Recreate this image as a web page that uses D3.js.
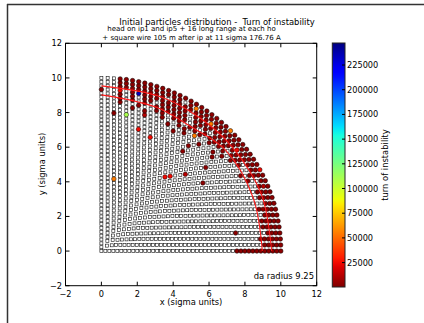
<!DOCTYPE html>
<html><head><meta charset="utf-8">
<script src="https://cdn.jsdelivr.net/npm/d3@7"></script>
<style>body{margin:0;background:#fff}svg{display:block}text{font-family:"DejaVu Sans",sans-serif;white-space:pre}</style>
</head><body><svg id="c" width="424" height="323"></svg>
<script>
// ---- data ----
// initial amplitudes (sigma) of the 46 arcs, and number of particles on each arc (spread from 0 to 90 deg)
const amps = [0,0.2222,0.4444,0.6667,0.8889,1.1111,1.3333,1.5556,1.7778,2,2.2222,2.4444,2.6667,2.8889,3.1111,3.3333,3.5556,3.7778,4,4.2222,4.4444,4.6667,4.8889,5.1111,5.3333,5.5556,5.7778,6,6.2222,6.4444,6.6667,6.8889,7.1111,7.3333,7.5556,7.7778,8,8.2222,8.4444,8.6667,8.8889,9.1111,9.3333,9.5556,9.7778,10];
const pointsPerArc = [1,2,3,4,5,6,7,8,9,10,11,12,13,14,15,16,17,18,19,20,21,22,23,24,25,26,27,28,29,30,31,32,33,34,35,36,37,38,39,40,41,42,43,44,45,46];
// turn of instability per code
const turnCodes = ['d','m','r','o','y','g','b','n'];
const turnValues = [3000,12000,25000,55000,85000,110000,190000,235000];
// lost particles on the outer arcs: one char per particle (index 0 = 0 deg), '.' = stable
const outerArcIndex = [45,44,43,42,41,40,39,38];
const outerArcPattern = [
 "ddddd ddddd ddddr ddddd ddodd ddddd ddddd ddddd ddd.. .",
 "ddddd ddddd dmddd ddddd ddddd dddod .dddd ddddd dd...",
 "ddddd ddddd dd.dd dddrd ddddo ddddd dd.dd ddddd d...",
 "ddddd ddd.d d..d. .dddd ddddd dd.dd ddddd dnd.r ..d",
 "ddd.d d.d.. ..d.. ddd.d dd.dd d.ddd dd.dd .d.d. ..",
 "d.d.. ..... ...d. .d.dd ddd.d .dddd dd.d. d.d.. .",
 "d.... ..... ..... ..d.. d.ddd .dd.d d..d. .d...",
 "d.... ..... ..... ...d. ..o.d d..d. .d.d. ...."
];
// isolated lost particles inside: [arc, index on arc, code]
const innerLost = [
 [37,0,'d'],[36,0,'d'],[35,0,'d'],[34,0,'d'],[34,3,'d'],
 [37,17,'d'],[37,20,'d'],[37,23,'d'],[37,26,'d'],[37,30,'m'],[36,24,'d'],[36,32,'g'],[36,34,'d'],
 [35,20,'d'],[34,15,'d'],[33,19,'d'],[33,27,'r'],[32,24,'r'],
 [31,12,'d'],[29,14,'m'],[26,14,'r'],[25,14,'r'],[19,17,'o']
];
const cbTicks = [25000,50000,75000,100000,125000,150000,175000,200000,225000];
const xTicks = [-2,0,2,4,6,8,10,12];
const yTicks = [-2,0,2,4,6,8,10,12];
const turnRange = [300, 247300];
// da limit lines: [angle deg, radius]
const daLineOuter = [[0,9.49],[20,9.5],[40,9.45],[55,9.45],[70,9.5],[90,9.54]];
const daLineInner = [[0,8.97],[20,9.0],[40,9.05],[55,8.75],[70,8.85],[90,9.02]];

// ---- chart ----
const svg = d3.select('#c');
svg.append('rect').attr('width',424).attr('height',323).attr('fill','#fff');
const x = d3.scaleLinear().domain([-2,12]).range([65.5,316.7]);
const y = d3.scaleLinear().domain([-2,12]).range([285.7,43.3]);

function jet(t){
  const r = d3.scaleLinear().domain([0,0.35,0.66,0.89,1]).range([0,0,1,1,0.5]).clamp(true)(t);
  const g = d3.scaleLinear().domain([0,0.125,0.375,0.64,0.91,1]).range([0,0,1,1,0,0]).clamp(true)(t);
  const b = d3.scaleLinear().domain([0,0.11,0.34,0.65,1]).range([0.5,1,1,0,0]).clamp(true)(t);
  return d3.rgb(r*255,g*255,b*255).toString();
}
const norm = d3.scaleLinear().domain(turnRange).range([0,1]).clamp(true);
const color = v => jet(1-norm(v));
const codeTurn = new Map(turnCodes.map((c,i)=>[c,turnValues[i]]));

// frame of the figure window
svg.append('line').attr('x1',7.5).attr('x2',7.5).attr('y1',4).attr('y2',323).attr('stroke','#333').attr('stroke-width',1.5);
svg.append('line').attr('x1',7).attr('x2',424).attr('y1',4.5).attr('y2',4.5).attr('stroke','#333').attr('stroke-width',1.5);

// particle states
const state = new Map();
outerArcIndex.forEach((k,i)=>{
  const s = outerArcPattern[i].replace(/ /g,'');
  for (let j=0;j<s.length;j++) if (s[j]!=='.') state.set(k+'_'+j, s[j]);
});
innerLost.forEach(d=>state.set(d[0]+'_'+d[1], d[2]));

const stable = [], lost = [];
amps.forEach((r,k)=>{
  const n = pointsPerArc[k];
  for (let j=0;j<n;j++){
    const a = n>1 ? (Math.PI/2)*j/(n-1) : 0;
    const p = {px:r*Math.cos(a), py:r*Math.sin(a)};
    const c = state.get(k+'_'+j);
    if (c) { p.t = codeTurn.get(c); lost.push(p); } else stable.push(p);
  }
});
const g = svg.append('g');
g.selectAll('rect.s').data(stable).join('rect').attr('class','s')
  .attr('x',d=>x(d.px)-1.5).attr('y',d=>y(d.py)-1.5).attr('width',3).attr('height',3)
  .attr('fill','#fff').attr('stroke','#111').attr('stroke-width',0.6);
g.selectAll('circle').data(lost).join('circle')
  .attr('cx',d=>x(d.px)).attr('cy',d=>y(d.py)).attr('r',2.25)
  .attr('fill',d=>color(d.t)).attr('stroke','#000').attr('stroke-width',0.5);

const line = d3.line().x(d=>x(d[1]*Math.cos(d[0]*Math.PI/180))).y(d=>y(d[1]*Math.sin(d[0]*Math.PI/180))).curve(d3.curveCatmullRom);
[daLineOuter,daLineInner].forEach(L=>{
  svg.append('path').attr('d',line(L)).attr('fill','none').attr('stroke','#ff1a1a').attr('stroke-width',1.1);
});

// axes frame
svg.append('rect').attr('x',65.5).attr('y',43.3).attr('width',316.7-65.5).attr('height',285.7-43.3)
  .attr('fill','none').attr('stroke','#000').attr('stroke-width',1);
xTicks.forEach(t=>{
  svg.append('line').attr('x1',x(t)).attr('x2',x(t)).attr('y1',285.7).attr('y2',281.7).attr('stroke','#000');
  svg.append('line').attr('x1',x(t)).attr('x2',x(t)).attr('y1',43.3).attr('y2',47.3).attr('stroke','#000');
  svg.append('text').attr('x',x(t)).attr('y',296.5).attr('text-anchor','middle').attr('font-size',8.2)
    .text(t<0?'\u2212'+Math.abs(t):t);
});
yTicks.forEach(t=>{
  svg.append('line').attr('x1',65.5).attr('x2',69.5).attr('y1',y(t)).attr('y2',y(t)).attr('stroke','#000');
  svg.append('line').attr('x1',316.7).attr('x2',312.7).attr('y1',y(t)).attr('y2',y(t)).attr('stroke','#000');
  svg.append('text').attr('x',62).attr('y',y(t)+3).attr('text-anchor','end').attr('font-size',8.2)
    .text(t<0?'\u2212'+Math.abs(t):t);
});
svg.append('text').attr('x',191).attr('y',305).attr('text-anchor','middle').attr('font-size',8.4).text('x (sigma units)');
svg.append('text').attr('transform','translate(45,164) rotate(-90)').attr('text-anchor','middle').attr('font-size',8.4).text('y (sigma units)');
svg.append('text').attr('x',314).attr('y',279).attr('text-anchor','end').attr('font-size',8.4).text('da radius 9.25');

svg.append('text').attr('x',217).attr('y',24.5).attr('text-anchor','middle').attr('font-size',8.4).text('Initial particles distribution -  Turn of instability');
svg.append('text').attr('x',191.5).attr('y',30.8).attr('text-anchor','middle').attr('font-size',7).text('head on ip1 and ip5 + 16 long range at each ho');
svg.append('text').attr('x',191.5).attr('y',39.8).attr('text-anchor','middle').attr('font-size',7).text('+ square wire 105 m after ip at 11 sigma 176.76 A');

// colorbar
const cb = d3.scaleLinear().domain(turnRange).range([287,43]);
const defs = svg.append('defs');
const grad = defs.append('linearGradient').attr('id','cbg').attr('x1',0).attr('x2',0).attr('y1',1).attr('y2',0);
d3.range(0,1.0001,0.02).forEach(s=>grad.append('stop').attr('offset',s).attr('stop-color',jet(1-s)));
svg.append('rect').attr('x',332.3).attr('y',43).attr('width',12.7).attr('height',244).attr('fill','url(#cbg)').attr('stroke','#222').attr('stroke-width',1);
cbTicks.forEach(t=>{
  svg.append('line').attr('x1',345).attr('x2',342).attr('y1',cb(t)).attr('y2',cb(t)).attr('stroke','#000');
  svg.append('text').attr('x',347).attr('y',cb(t)+3).attr('font-size',8.2).text(t);
});
svg.append('text').attr('transform','translate(388,165) rotate(-90)').attr('text-anchor','middle').attr('font-size',8.4).text('turn of instability');
</script></body></html>
